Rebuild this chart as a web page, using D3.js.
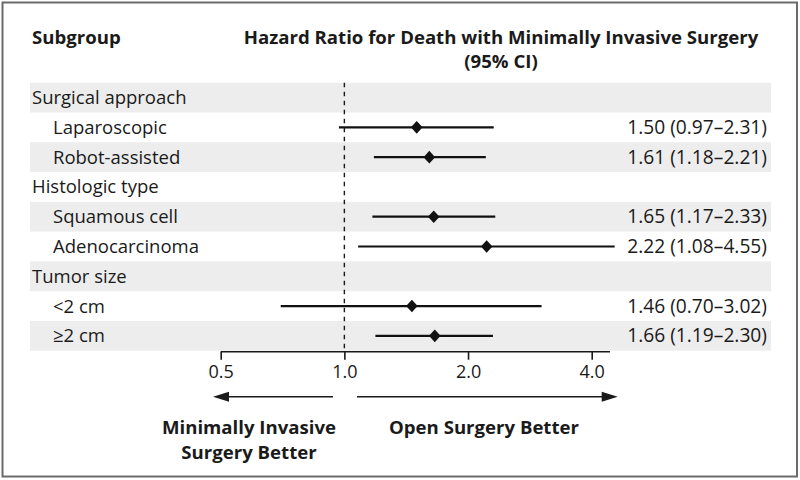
<!DOCTYPE html>
<html>
<head>
<meta charset="utf-8">
<script src="https://cdn.jsdelivr.net/npm/d3@7"></script>
<style>
  html, body { margin: 0; padding: 0; background: #fff; }
  svg { display: block; }
  text { font-family: "Open Sans", Lato, sans-serif; fill: #1a1a1a; }
</style>
</head>
<body>
<svg id="chart" width="800" height="480"></svg>
<script>
// ---- data ----
const rowLabels = ["Surgical approach", "Laparoscopic", "Robot-assisted", "Histologic type", "Squamous cell", "Adenocarcinoma", "Tumor size", "<2 cm", "\u22652 cm"];
const rowIsHeader = [true, false, false, true, false, false, true, false, false];
const hazardRatio = [null, 1.50, 1.61, null, 1.65, 2.22, null, 1.46, 1.66];
const ciLower = [null, 0.97, 1.18, null, 1.17, 1.08, null, 0.70, 1.19];
const ciUpper = [null, 2.31, 2.21, null, 2.33, 4.55, null, 3.02, 2.30];
const valueLabels = ["", "1.50 (0.97\u20132.31)", "1.61 (1.18\u20132.21)", "", "1.65 (1.17\u20132.33)", "2.22 (1.08\u20134.55)", "", "1.46 (0.70\u20133.02)", "1.66 (1.19\u20132.30)"];
const tickValues = [0.5, 1.0, 2.0, 4.0];
const tickLabels = ["0.5", "1.0", "2.0", "4.0"];

// ---- layout ----
const svg = d3.select("#chart");
const rowTop = 82.7, rowH = 29.78;
const bandX0 = 30, bandX1 = 771;
const FS = 18.5, FSV = 19.2, FST = 18, FSB = 18.6;
const x = d3.scaleLog().domain([0.5, 4]).range([220.7, 591.7]);
const y = d3.scaleBand().domain(d3.range(rowLabels.length)).range([rowTop, rowTop + rowH * rowLabels.length]).padding(0);

// frame
svg.append("rect").attr("x", 2.5).attr("y", 2.5).attr("width", 794.5).attr("height", 474)
  .attr("fill", "none").attr("stroke", "#6a6a6a").attr("stroke-width", 2);

// headers
svg.append("text").attr("x", 32).attr("y", 44).attr("font-size", FSB).attr("font-weight", 700).text("Subgroup");
svg.append("text").attr("x", 501).attr("y", 44).attr("text-anchor", "middle").attr("font-size", FSB).attr("font-weight", 700)
  .text("Hazard Ratio for Death with Minimally Invasive Surgery");
svg.append("text").attr("x", 501).attr("y", 68).attr("text-anchor", "middle").attr("font-size", FSB).attr("font-weight", 700).text("(95% CI)");

// bands
const idx = d3.range(rowLabels.length);
svg.append("g").selectAll("rect").data(idx.filter(i => i % 2 === 0)).join("rect")
  .attr("x", bandX0).attr("width", bandX1 - bandX0)
  .attr("y", i => y(i)).attr("height", y.bandwidth())
  .attr("fill", "#ededed");

// row labels
svg.append("g").selectAll("text").data(idx).join("text")
  .attr("x", i => rowIsHeader[i] ? 32 : 53)
  .attr("y", i => y(i) + y.bandwidth() / 2 + 6.5)
  .attr("font-size", FS)
  .text(i => rowLabels[i]);

// value labels
svg.append("g").selectAll("text").data(idx.filter(i => !rowIsHeader[i])).join("text")
  .attr("x", 767).attr("text-anchor", "end")
  .attr("y", i => y(i) + y.bandwidth() / 2 + 6.5)
  .attr("font-size", FSV)
  .text(i => valueLabels[i]);

// reference dashed line at 1.0
svg.append("line").attr("x1", x(1)).attr("x2", x(1)).attr("y1", rowTop).attr("y2", y.range()[1])
  .attr("stroke", "#1a1a1a").attr("stroke-width", 1.4).attr("stroke-dasharray", "4.5,4.5");

// axis
const axisY = y.range()[1] + 1;
const axis = d3.axisBottom(x).tickValues(tickValues).tickFormat((d, i) => tickLabels[i]).tickSize(8).tickSizeOuter(0).tickPadding(6);
const gAxis = svg.append("g").attr("transform", `translate(0,${axisY})`).call(axis);
gAxis.select(".domain").remove();
gAxis.append("line").attr("x1", x(0.5)).attr("x2", 610).attr("stroke", "#1a1a1a").attr("stroke-width", 1.6);
gAxis.selectAll(".tick line").attr("stroke", "#1a1a1a").attr("stroke-width", 1.6);
gAxis.selectAll(".tick text").attr("font-size", FST).attr("font-family", "'Open Sans', Lato, sans-serif").attr("fill", "#1a1a1a");

// CI lines and diamonds
const data = idx.filter(i => !rowIsHeader[i]);
svg.append("g").selectAll("line").data(data).join("line")
  .attr("x1", i => x(ciLower[i])).attr("x2", i => x(ciUpper[i]))
  .attr("y1", i => y(i) + y.bandwidth() / 2).attr("y2", i => y(i) + y.bandwidth() / 2)
  .attr("stroke", "#111").attr("stroke-width", 2.2);
svg.append("g").selectAll("path").data(data).join("path")
  .attr("transform", i => `translate(${x(hazardRatio[i])},${y(i) + y.bandwidth() / 2})`)
  .attr("d", "M0,-6.3L5.8,0L0,6.3L-5.8,0Z")
  .attr("fill", "#111");

// arrows
const arrY = 396.7;
svg.append("line").attr("x1", 333).attr("x2", 226).attr("y1", arrY).attr("y2", arrY).attr("stroke", "#1a1a1a").attr("stroke-width", 1.6);
svg.append("path").attr("d", `M213,${arrY}L229,${arrY - 5}L229,${arrY + 5}Z`).attr("fill", "#1a1a1a");
svg.append("line").attr("x1", 357).attr("x2", 605).attr("y1", arrY).attr("y2", arrY).attr("stroke", "#1a1a1a").attr("stroke-width", 1.6);
svg.append("path").attr("d", `M617.7,${arrY}L601.7,${arrY - 5}L601.7,${arrY + 5}Z`).attr("fill", "#1a1a1a");

svg.append("text").attr("x", 249).attr("y", 434).attr("text-anchor", "middle").attr("font-size", FSB).attr("font-weight", 700).text("Minimally Invasive");
svg.append("text").attr("x", 249).attr("y", 459).attr("text-anchor", "middle").attr("font-size", FSB).attr("font-weight", 700).text("Surgery Better");
svg.append("text").attr("x", 484).attr("y", 434).attr("text-anchor", "middle").attr("font-size", FSB).attr("font-weight", 700).text("Open Surgery Better");
</script>
</body>
</html>
